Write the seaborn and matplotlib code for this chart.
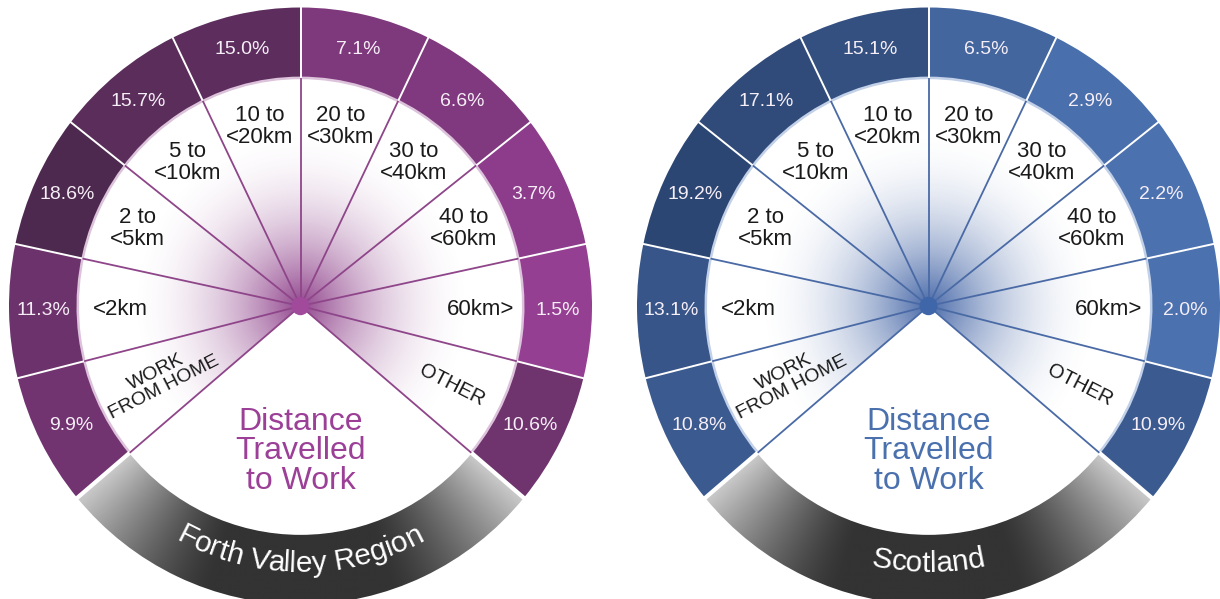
import numpy as np
import matplotlib
matplotlib.use("Agg")
import matplotlib.pyplot as plt
from matplotlib.patches import Wedge, Circle
from matplotlib.font_manager import FontProperties
import seaborn as sns

# ---- data -------------------------------------------------------------
categories = ["WORK\nFROM HOME", "<2km", "2 to\n<5km", "5 to\n<10km", "10 to\n<20km",
              "20 to\n<30km", "30 to\n<40km", "40 to\n<60km", "60km>", "OTHER"]
forth_valley = [9.9, 11.3, 18.6, 15.7, 15.0, 7.1, 6.6, 3.7, 1.5, 10.6]
scotland = [10.8, 13.1, 19.2, 17.1, 15.1, 6.5, 2.9, 2.2, 2.0, 10.9]
regions = ["Forth Valley Region", "Scotland"]
title_lines = ["Distance", "Travelled", "to Work"]

# ---- style ------------------------------------------------------------
sns.set_theme(style="white")
plt.rcParams["font.family"] = ["Liberation Sans", "DejaVu Sans"]

themes = [
    dict(light="#953f92", dark="#4e294f", line="#8e4589", dot="#a14a9c",
         glow="#8a3a86", title="#9b3f97", rim="#dcc2da"),
    dict(light="#4b71af", dark="#2c4673", line="#4a6aa6", dot="#3e66a8",
         glow="#3d60a3", title="#4a70ae", rim="#c2d0e8"),
]

R_OUT, R_IN = 291.5, 223.0      # ring radii
R_BAND_IN = 223.5               # inner radius of the grey name band
START, STEP = 220.0, 26.0       # first segment edge, angular width per segment
Y_SCALE = 1.024                 # dial is very slightly taller than wide
CY = 306.0                      # dial centre, pixels from the top
FIG_W, FIG_H = 1220, 599

fig = plt.figure(figsize=(FIG_W / 100, FIG_H / 100), dpi=100)
renderer = fig.canvas.get_renderer()


def polar(r, deg):
    a = np.radians(deg)
    return r * np.cos(a), r * np.sin(a)


def py(px_from_top):
    """Vertical pixel position -> data units relative to the dial centre."""
    return -(px_from_top - CY) / Y_SCALE


def radial_glow(ax, color, edges):
    n = 500
    g = np.linspace(-R_IN, R_IN, n)
    xx, yy = np.meshgrid(g, g)
    rr = np.hypot(xx, yy)
    rgb = np.array(matplotlib.colors.to_rgb(color))
    img = np.zeros((n, n, 4))
    img[..., :3] = rgb
    img[..., 3] = 0.95 * np.clip(1 - rr / 175.0, 0, 1) ** 2.0
    im = ax.imshow(img, extent=(-R_IN, R_IN, -R_IN, R_IN), origin="lower",
                   aspect="auto", interpolation="bilinear", zorder=1)
    clip = Wedge((0, 0), R_IN, edges[-1], edges[0], transform=ax.transData)
    im.set_clip_path(clip)


def name_band(ax, edges):
    n = 700
    g = np.linspace(-R_OUT, R_OUT, n)
    xx, yy = np.meshgrid(g, g)
    th = np.degrees(np.arctan2(yy, xx)) % 360
    half = (edges[-1] + 360 - edges[0]) / 2.0
    d = np.abs(th - 270.0)
    t = np.clip((d - 18.0) / (half - 18.0), 0, 1) ** 1.4
    dark, light = 0.20, 0.80
    v = dark + (light - dark) * t
    img = np.dstack([v, v, v, np.ones_like(v)])
    im = ax.imshow(img, extent=(-R_OUT, R_OUT, -R_OUT, R_OUT), origin="lower",
                   aspect="auto", interpolation="bilinear", zorder=1)
    clip = Wedge((0, 0), R_OUT, edges[0], edges[-1] + 360,
                 width=R_OUT - R_BAND_IN, transform=ax.transData)
    im.set_clip_path(clip)


def curved_text(ax, text, r_base, size, color):
    fp = FontProperties(family=["Liberation Sans", "DejaVu Sans"], size=size)

    def width(s):
        if not s:
            return 0.0
        w, _, _ = renderer.get_text_width_height_descent(s, fp, ismath=False)
        return w

    total = width(text)
    for i, ch in enumerate(text):
        if ch == " ":
            continue
        c = (width(text[:i]) + width(text[:i + 1])) / 2.0
        ang = 270.0 + np.degrees((c - total / 2.0) / r_base)
        x, y = polar(r_base, ang)
        ax.text(x, y, ch, fontproperties=fp, color=color, ha="center",
                va="baseline", rotation=ang - 270.0, rotation_mode="anchor",
                zorder=6)


def draw_dial(ax, values, region, th):
    n = len(values)
    edges = START - STEP * np.arange(n + 1)
    cmap = sns.blend_palette([th["light"], th["dark"]], as_cmap=True)
    norm = plt.Normalize(min(values), max(values))

    radial_glow(ax, th["glow"], edges)
    name_band(ax, edges)

    # outer ring segments coloured by share
    for i, v in enumerate(values):
        t2, t1 = edges[i], edges[i + 1]
        ax.add_patch(Wedge((0, 0), R_OUT, t1, t2, width=R_OUT - R_IN,
                           facecolor=cmap(norm(v)), edgecolor="none", zorder=2))
        mid = (t1 + t2) / 2.0
        x, y = polar((R_IN + R_OUT) / 2.0, mid)
        ax.text(x, y, f"{v:.1f}%", color="#f6eef6", fontsize=14,
                ha="center", va="center", zorder=6)

        lab = categories[i]
        if i == 0:
            x, y = polar(158, mid)
            ax.text(x, y, lab, fontsize=14, ha="center", va="center",
                    rotation=mid - 180, rotation_mode="anchor",
                    linespacing=1.0, multialignment="center", color="#1a1a1a", zorder=6)
        elif i == n - 1:
            x, y = polar(170, mid)
            ax.text(x, y, lab, fontsize=14.5, ha="center", va="center",
                    rotation=mid, rotation_mode="anchor", color="#1a1a1a", zorder=6)
        else:
            x, y = polar(180, mid)
            ax.text(x, y, lab, fontsize=16, ha="center", va="center",
                    linespacing=1.05, multialignment="center", color="#1a1a1a", zorder=6)

    # light rim on the inside of the ring
    ax.add_patch(Wedge((0, 0), R_IN + 1.0, edges[-1], edges[0], width=2.5,
                       facecolor=th["rim"], edgecolor="none", zorder=3))

    # separators
    for k, e in enumerate(edges):
        lw = 3.0 if k in (0, n) else 1.4
        x0, y0 = polar(R_IN - 1, e)
        x1, y1 = polar(R_OUT + 8, e)
        ax.plot([x0, x1], [y0, y1], color="white", lw=lw, zorder=4,
                solid_capstyle="butt")
        xa, ya = polar(R_IN, e)
        ax.plot([0, xa], [0, ya], color=th["line"], lw=1.3, zorder=4,
                solid_capstyle="butt")
    ax.add_patch(Circle((0, 0), 9, facecolor=th["dot"], edgecolor="none", zorder=5))

    # centre title
    for j, line in enumerate(title_lines):
        ax.text(0, py(430 + 29.3 * j), line, fontsize=23, color=th["title"],
                ha="center", va="baseline", zorder=6)

    curved_text(ax, region, -py(572), 21.5, "white")


centres = [300.5, 928.5 - FIG_W / 2]
series = [forth_valley, scotland]
for k in range(2):
    ax = fig.add_axes([0.5 * k, 0, 0.5, 1])
    ax.set_axis_off()
    cx = centres[k]
    ax.set_xlim(-cx, FIG_W / 2 - cx)
    ax.set_ylim(py(FIG_H), py(0))
    draw_dial(ax, series[k], regions[k], themes[k])

fig.savefig("out.png", dpi=100, facecolor="white")
